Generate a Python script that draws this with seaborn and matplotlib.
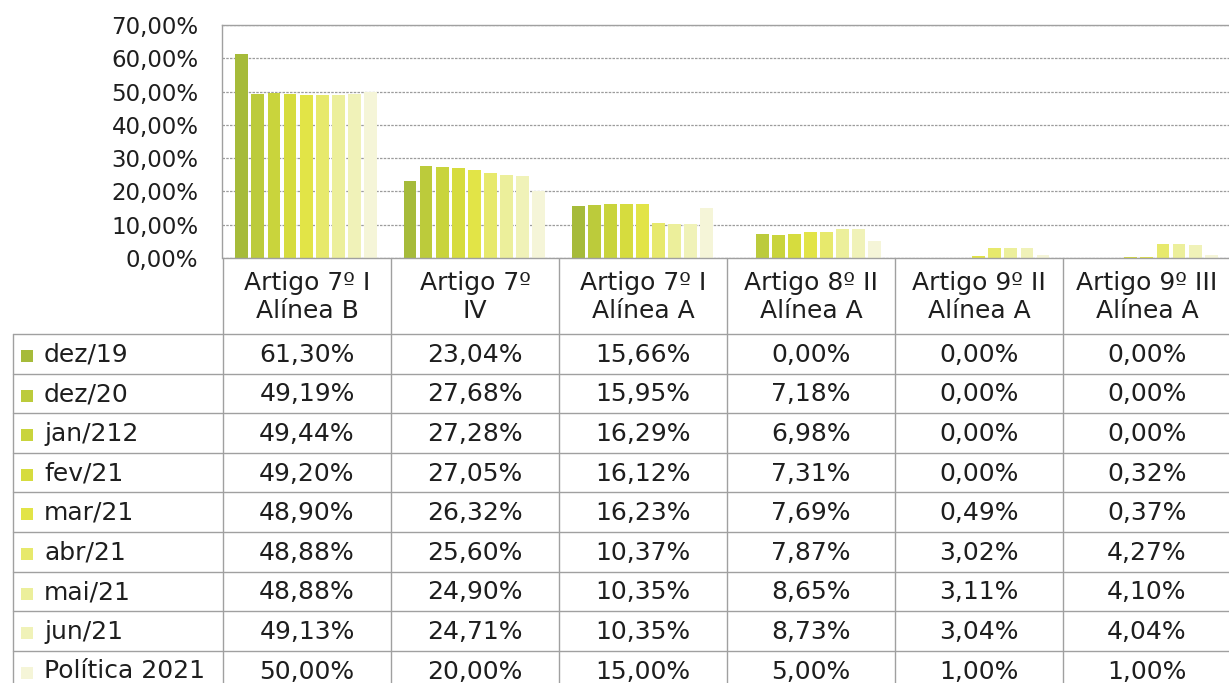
import matplotlib
matplotlib.use("Agg")
import matplotlib.pyplot as plt
from matplotlib.lines import Line2D
from matplotlib.patches import Rectangle
from matplotlib.ticker import FuncFormatter, MultipleLocator
import seaborn as sns
import pandas as pd

# ---- data -----------------------------------------------------------------
artigos = [
    "Artigo 7º I\nAlínea B",
    "Artigo 7º\nIV",
    "Artigo 7º I\nAlínea A",
    "Artigo 8º II\nAlínea A",
    "Artigo 9º II\nAlínea A",
    "Artigo 9º III\nAlínea A",
]
periodos = ["dez/19", "dez/20", "jan/212", "fev/21", "mar/21",
            "abr/21", "mai/21", "jun/21", "Política 2021"]

dez19 = [61.30, 23.04, 15.66, 0.00, 0.00, 0.00]
dez20 = [49.19, 27.68, 15.95, 7.18, 0.00, 0.00]
jan21 = [49.44, 27.28, 16.29, 6.98, 0.00, 0.00]
fev21 = [49.20, 27.05, 16.12, 7.31, 0.00, 0.32]
mar21 = [48.90, 26.32, 16.23, 7.69, 0.49, 0.37]
abr21 = [48.88, 25.60, 10.37, 7.87, 3.02, 4.27]
mai21 = [48.88, 24.90, 10.35, 8.65, 3.11, 4.10]
jun21 = [49.13, 24.71, 10.35, 8.73, 3.04, 4.04]
politica = [50.00, 20.00, 15.00, 5.00, 1.00, 1.00]

series = [dez19, dez20, jan21, fev21, mar21, abr21, mai21, jun21, politica]
cores = ["#a6bb3a", "#bccb3b", "#c9d43c", "#d6dc3e", "#e2e447",
         "#e7e96c", "#ecef9b", "#f0f2b8", "#f5f5d8"]

rows = []
for per, vals in zip(periodos, series):
    for art, v in zip(artigos, vals):
        rows.append({"artigo": art, "periodo": per, "valor": v})
df = pd.DataFrame(rows)

# ---- figure ---------------------------------------------------------------
W, H = 1229, 683
sns.set_theme(style="white")
plt.rcParams["font.family"] = ["DejaVu Sans"]
fig = plt.figure(figsize=(W / 100, H / 100), dpi=100)
fig.patch.set_facecolor("white")

def fx(x):
    return x / W

def fy(y):
    return 1 - y / H

x_left, x_right = 222, 1231
y_top, y_bot = 25, 258
ax = fig.add_axes([fx(x_left), fy(y_bot), fx(x_right - x_left), (y_bot - y_top) / H])

sns.barplot(data=df, x="artigo", y="valor", hue="periodo", hue_order=periodos,
            order=artigos, palette=cores, saturation=1, width=0.86, gap=0.2,
            linewidth=0, legend=False, ax=ax, errorbar=None)

ax.set_xlim(-0.5, 5.5)
ax.set_ylim(0, 70)
ax.yaxis.set_major_locator(MultipleLocator(10))
ax.yaxis.set_major_formatter(FuncFormatter(lambda v, _: f"{v:.2f}%".replace(".", ",")))
ax.tick_params(axis="y", labelsize=16.5, colors="#1e1e1e", length=0, pad=17)
ax.tick_params(axis="x", length=0, labelbottom=False)
ax.set_xlabel("")
ax.set_ylabel("")
ax.set_axisbelow(True)
ax.yaxis.grid(True, color="#9c9c9c", linewidth=0.9, linestyle=(0, (2, 1)))
ax.xaxis.grid(False)
for side in ["left", "top", "right"]:
    ax.spines[side].set_color("#a0a0a0")
    ax.spines[side].set_linewidth(1.0)
ax.spines["bottom"].set_visible(False)
ax.set_facecolor("white")

# ---- data table -----------------------------------------------------------
line_kw = dict(color="#a0a0a0", linewidth=1.0, transform=fig.transFigure)
col_edges = [223, 391, 559, 727, 895, 1063, 1231]
row_edges = [334, 374, 413, 453, 492, 532, 572, 611, 651, 690]
table_left = 13
head_top = 258
txt_color = "#1e1e1e"
fs = 18

# header row lines
fig.add_artist(Line2D([fx(col_edges[0]), fx(col_edges[-1])], [fy(head_top)] * 2, **line_kw))
for ye in row_edges:
    fig.add_artist(Line2D([fx(table_left), fx(col_edges[-1])], [fy(ye)] * 2, **line_kw))
for xe in col_edges:
    fig.add_artist(Line2D([fx(xe)] * 2, [fy(head_top), fy(H + 10)], **line_kw))
fig.add_artist(Line2D([fx(table_left)] * 2, [fy(row_edges[0]), fy(H + 10)], **line_kw))

# category headers
for i, art in enumerate(artigos):
    cx = (col_edges[i] + col_edges[i + 1]) / 2
    fig.text(fx(cx), fy((head_top + row_edges[0]) / 2 + 1), art, ha="center", va="center",
             fontsize=fs, color=txt_color, linespacing=1.25)

# rows: legend key, period name, values
for r, (per, vals, cor) in enumerate(zip(periodos, series, cores)):
    cy = (row_edges[r] + row_edges[r + 1]) / 2
    fig.add_artist(Rectangle((fx(21), fy(cy + 8)), fx(12), 12 / H,
                             facecolor=cor, edgecolor="none", transform=fig.transFigure))
    fig.text(fx(44), fy(cy + 1), per, ha="left", va="center", fontsize=fs, color=txt_color)
    for i, v in enumerate(vals):
        cx = (col_edges[i] + col_edges[i + 1]) / 2
        fig.text(fx(cx), fy(cy + 1), f"{v:.2f}%".replace(".", ","), ha="center", va="center",
                 fontsize=fs, color=txt_color)

fig.savefig("out.png", dpi=100, facecolor="white")
